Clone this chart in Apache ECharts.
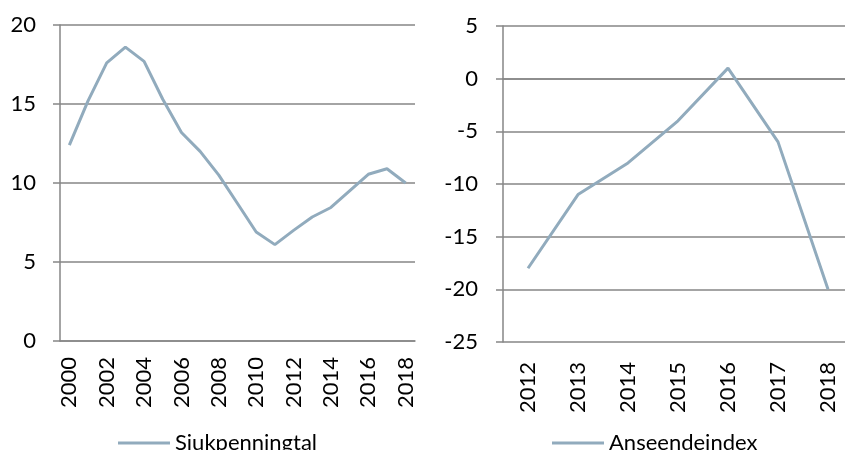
<!DOCTYPE html>
<html>
<head>
<meta charset="utf-8">
<script src="https://cdn.jsdelivr.net/npm/echarts@6/dist/echarts.min.js"></script>
<style>
  html, body { margin: 0; padding: 0; background: #fff; }
  #chart { width: 845px; height: 450px; }
</style>
</head>
<body>
<div id="chart"></div>
<script>
// data
const yearsLeft = ['2000', '2001', '2002', '2003', '2004', '2005', '2006', '2007', '2008', '2009',
  '2010', '2011', '2012', '2013', '2014', '2015', '2016', '2017', '2018']
const sjukpenningtal = [12.4, 15.2, 17.6, 18.6, 17.7, 15.3, 13.2, 12.0, 10.5, 8.7,
  6.9, 6.1, 7.0, 7.85, 8.45, 9.5, 10.55, 10.9, 10.0]
const yearsRight = ['2012', '2013', '2014', '2015', '2016', '2017', '2018']
const anseendeindex = [-18, -11, -8, -4, 1, -6, -20]

const lineColor = '#91ABBD'
const gray = '#868686'
const font = 'Lato'
const fs = 22

const chart = echarts.init(document.getElementById('chart'))

const yAxisBase = {
  type: 'value',
  axisLine: { show: true, lineStyle: { color: gray, width: 1.5 } },
  axisTick: { show: true, length: 7, lineStyle: { color: gray, width: 1.5 } },
  splitLine: { lineStyle: { color: gray, width: 1.5 } },
  axisLabel: { color: '#000', fontSize: fs, fontFamily: font, margin: 24 }
}

const legendBase = {
  itemWidth: 52, itemHeight: 3, icon: 'rect',
  textStyle: { fontSize: fs, color: '#000', fontFamily: font }
}

chart.setOption({
  animation: false,
  textStyle: { fontFamily: font },
  grid: [
    { left: 60, top: 25, width: 355, height: 316, outerBoundsMode: 'none' },
    { left: 503, top: 26, width: 350, height: 316, outerBoundsMode: 'none' }
  ],
  legend: [
    Object.assign({ data: ['Sjukpenningtal'], left: 113, top: 427 }, legendBase),
    Object.assign({ data: ['Anseendeindex'], left: 547, top: 427 }, legendBase)
  ],
  xAxis: [
    {
      gridIndex: 0,
      type: 'category',
      data: yearsLeft,
      axisLine: { lineStyle: { color: gray, width: 1.5 } },
      axisTick: { interval: 0, length: 7, lineStyle: { color: gray, width: 1.5 } },
      axisLabel: { interval: 1, rotate: 90, color: '#000', fontSize: fs, fontFamily: font, margin: 16 }
    },
    {
      gridIndex: 1,
      type: 'category',
      data: yearsRight,
      axisLine: { onZero: true, lineStyle: { color: gray, width: 1.5 } },
      axisTick: { interval: 0, length: 8, lineStyle: { color: gray, width: 1.5 } },
      axisLabel: { show: false }
    },
    {
      gridIndex: 1,
      type: 'category',
      data: yearsRight,
      position: 'bottom',
      axisLine: { show: false, onZero: false },
      axisTick: { show: false },
      axisLabel: { interval: 0, rotate: 90, color: '#000', fontSize: fs, fontFamily: font, margin: 20 }
    }
  ],
  yAxis: [
    Object.assign({}, yAxisBase, { gridIndex: 0, min: 0, max: 20, interval: 5 }),
    Object.assign({}, yAxisBase, { gridIndex: 1, min: -25, max: 5, interval: 5,
      axisLabel: { color: '#000', fontSize: fs, fontFamily: font, margin: 25 } })
  ],
  series: [
    {
      name: 'Sjukpenningtal', type: 'line', xAxisIndex: 0, yAxisIndex: 0,
      data: sjukpenningtal, symbol: 'none',
      lineStyle: { color: lineColor, width: 3 }, itemStyle: { color: lineColor }
    },
    {
      name: 'Anseendeindex', type: 'line', xAxisIndex: 1, yAxisIndex: 1,
      data: anseendeindex, symbol: 'none',
      lineStyle: { color: lineColor, width: 3 }, itemStyle: { color: lineColor }
    }
  ]
})
</script>
</body>
</html>
